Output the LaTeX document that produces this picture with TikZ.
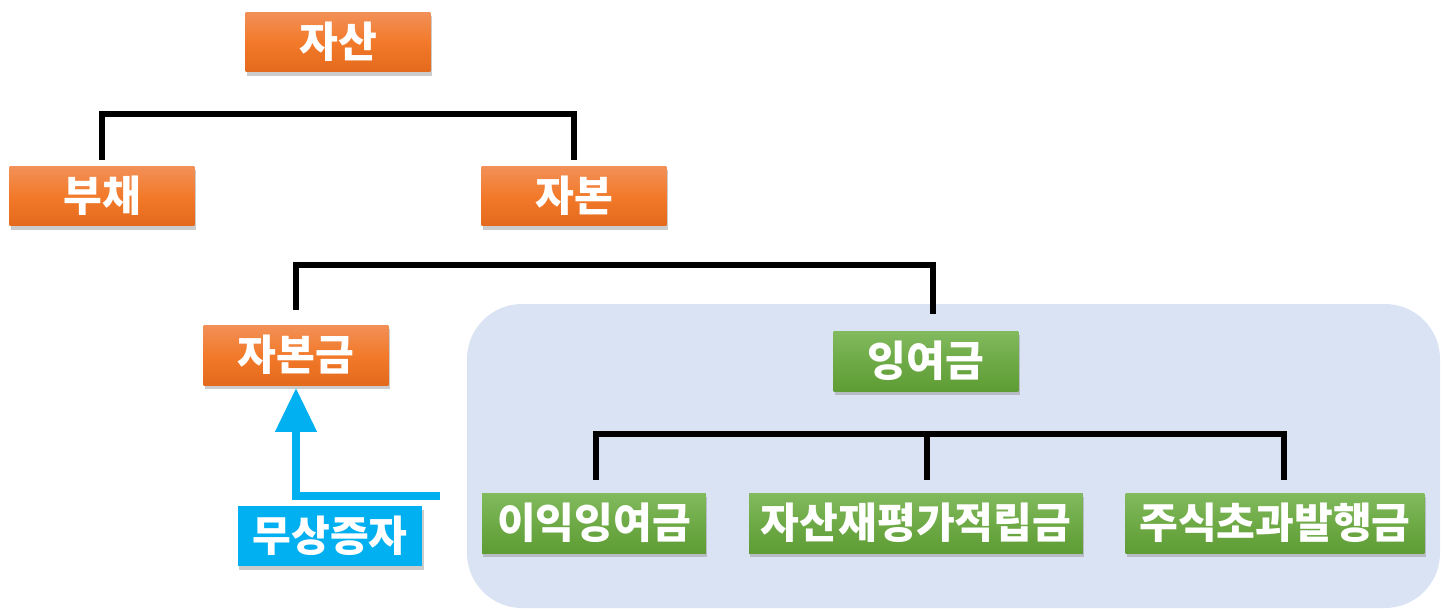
\documentclass[tikz,border=0pt]{standalone}
\usepackage{fontspec}
\newfontfamily\krfont{Noto Sans CJK KR}
\usepackage{tikz}
\usetikzlibrary{arrows.meta,shadows,backgrounds}
\definecolor{orangetop}{HTML}{F29058}
\definecolor{orangemid}{HTML}{F27A2A}
\definecolor{orangebot}{HTML}{E4691C}
\definecolor{greentop}{HTML}{82BA5E}
\definecolor{greenmid}{HTML}{6EAA46}
\definecolor{greenbot}{HTML}{5E9C34}
\definecolor{giftblue}{HTML}{00B0F0}
\definecolor{panelblue}{HTML}{DAE3F3}
\begin{document}
\begin{tikzpicture}[x=0.02cm,y=-0.02cm,
  box/.style={minimum width=3.7cm,minimum height=1.2cm,inner sep=0pt,text=white,
    font=\krfont\bfseries\fontsize{24}{28}\selectfont,
    drop shadow={shadow xshift=0.6pt,shadow yshift=-2.2pt,opacity=0.4}},
  orangebox/.style={box,top color=orangetop,bottom color=orangebot,middle color=orangemid},
  greenbox/.style={box,top color=greentop,bottom color=greenbot,middle color=greenmid},
  bracket/.style={line width=0.12cm,black},
  giftarrow/.style={line width=0.16cm,giftblue,-{Triangle[length=0.88cm,width=0.8cm]},shorten >=1.5pt}]
\useasboundingbox (0,0) rectangle (1444,609);
% panel behind the surplus part
\fill[panelblue,rounded corners=1.1cm] (467,304) rectangle (1440,608);

\node[orangebox] (jasan) at (338,42) {자산};
\node[orangebox] (buchae) at (102,196) {부채};
\node[orangebox] (jabon) at (574,196) {자본};
\node[orangebox] (jabongeum) at (296,355) {자본금};
\node[greenbox] (ingyeogeum) at (926,361) {잉여금};
\node[greenbox,minimum width=4.48cm] (iik) at (594,523) {이익잉여금};
\node[greenbox,minimum width=6.68cm] (jaepyeongga) at (916,523) {자산재평가적립금};
\node[greenbox,minimum width=5.98cm] (chogwa) at (1275,523) {주식초과발행금};
\node[box,fill=giftblue] (musang) at (330,536) {무상증자};

% brackets
\coordinate (b1) at (338,114);
\coordinate (b2) at (600,265);
\coordinate (b3) at (927,434);
\coordinate (b3mid) at (927,480);
\draw[bracket] ([yshift=3.4pt]buchae.north) |- (b1) -| ([yshift=3.4pt]jabon.north);
\draw[bracket] ([yshift=8.5pt]jabongeum.north) |- (b2) -| ([xshift=4pt,yshift=9.5pt]ingyeogeum.north);
\draw[bracket] ([xshift=1pt,yshift=7.4pt]iik.north) |- (b3) -| ([xshift=5pt,yshift=7.4pt]chogwa.north);
\draw[bracket] (b3) -- (b3mid);

% free capital increase
\coordinate (giftstart) at (440,496);
\draw[giftarrow] (giftstart) -| (jabongeum.south);
\end{tikzpicture}
\end{document}
